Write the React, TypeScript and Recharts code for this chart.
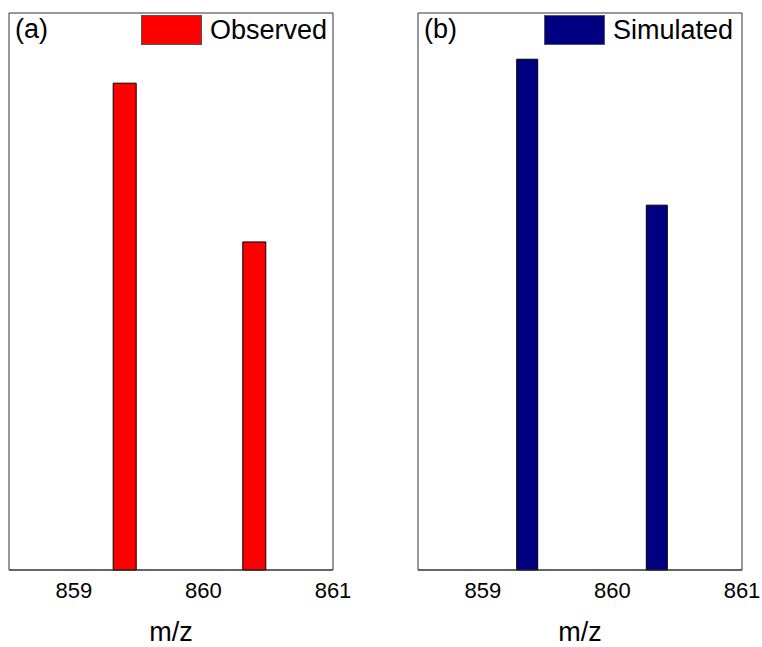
import React from 'react';
import { BarChart, Bar, XAxis, YAxis, ReferenceArea, Legend } from 'recharts';

const xTicks = [859, 860, 861];
const xDomain: [number, number] = [858.5, 861];
const observedMz = [859.395, 860.395];
const observedIntensity = [87.4, 58.9];
const simulatedMz = [859.345, 860.345];
const simulatedIntensity = [91.7, 65.5];

const observedData = observedMz.map((mz, i) => ({ mz, v: observedIntensity[i] }));
const simulatedData = simulatedMz.map((mz, i) => ({ mz, v: simulatedIntensity[i] }));

const FONT = '"Liberation Sans", Arial, sans-serif';

const LegendBox = (props: any) => {
  const item = props.payload && props.payload[0];
  if (!item) return null;
  return (
    <div style={{ display: 'flex', alignItems: 'center', fontFamily: FONT, fontSize: 27, color: '#000' }}>
      <div style={{ width: 61, height: 30, background: item.color, border: '1px solid #555', boxSizing: 'border-box', marginRight: 8 }} />
      <span style={{ lineHeight: '30px', whiteSpace: 'nowrap' }}>{item.value}</span>
    </div>
  );
};

type PanelProps = {
  data: { mz: number; v: number }[];
  color: string;
  name: string;
  tag: string;
  left: number;
  right: number;
  barSize: number;
  legendLeft: number;
};

const Panel = ({ data, color, name, tag, left, right, barSize, legendLeft }: PanelProps) => (
  <BarChart
    width={381}
    height={647}
    data={data}
    margin={{ top: 13, left, right, bottom: 0 }}
    style={{ fontFamily: FONT }}
  >
    <XAxis
      dataKey="mz"
      type="number"
      domain={xDomain}
      ticks={xTicks}
      allowDataOverflow
      height={77}
      tickLine={false}
      tickSize={6}
      tickMargin={6}
      axisLine={{ stroke: '#333' }}
      tick={{ fill: '#000', fontSize: 22, fontFamily: FONT }}
      label={{ value: 'm/z', position: 'insideBottom', offset: 6, fill: '#000', fontSize: 27, fontFamily: FONT }}
    />
    <YAxis type="number" domain={[0, 100]} hide width={0} />
    <ReferenceArea
      x1={858.5}
      x2={861}
      y1={0}
      y2={100}
      fill="none"
      stroke="#333"
      strokeWidth={1}
      ifOverflow="visible"
      label={{ value: tag, position: 'insideTopLeft', offset: 6, fill: '#000', fontSize: 27, fontFamily: FONT }}
    />
    <Legend
      layout="horizontal"
      verticalAlign="middle"
      align="center"
      content={<LegendBox />}
      wrapperStyle={{ top: 15, left: legendLeft, width: 'auto', height: 30 }}
    />
    <Bar dataKey="v" name={name} fill={color} stroke="#000" strokeWidth={1} barSize={barSize} isAnimationActive={false} />
  </BarChart>
);

export default function App() {
  return (
    <div style={{ position: 'absolute', left: 0, top: 0, width: 762, height: 647, background: '#fff', display: 'flex' }}>
      <Panel data={observedData} color="#ff0000" name="Observed" tag="(a)" left={9} right={48} barSize={23} legendLeft={141} />
      <Panel data={simulatedData} color="#000080" name="Simulated" tag="(b)" left={37} right={20} barSize={21} legendLeft={544 - 381} />
    </div>
  );
}
